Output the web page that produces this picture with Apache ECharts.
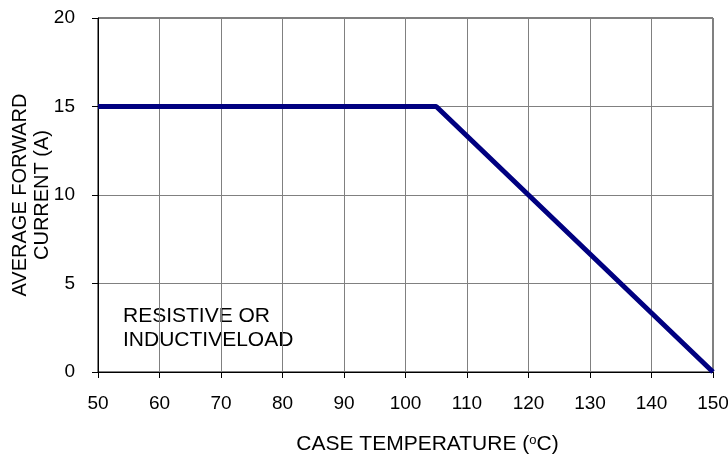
<!DOCTYPE html>
<html><head><meta charset="utf-8">
<script src="https://cdn.jsdelivr.net/npm/echarts@6/dist/echarts.min.js"></script>
<style>html,body{margin:0;padding:0;background:#fff}#c{width:728px;height:458px}</style>
</head><body><div id="c"></div>
<script>
const temps = [50, 105, 150];
const currents = [15, 15, 0];
const xTicks = [50, 150, 10];
const yTicks = [0, 20, 5];
const chart = echarts.init(document.getElementById('c'));
const font = 'Liberation Sans, Arial, sans-serif';
chart.setOption({
  animation: false,
  backgroundColor: '#fff',
  grid: {left: 98, right: 15, top: 18, bottom: 86, show: true, borderColor: '#000', borderWidth: 1, outerBoundsMode: 'none', containLabel: false},
  xAxis: {
    type: 'value', min: xTicks[0], max: xTicks[1], interval: xTicks[2],
    axisLine: {show: true, onZero: false, lineStyle: {color: '#000', width: 1}},
    axisTick: {show: true, inside: false, length: 6, lineStyle: {color: '#000'}},
    axisLabel: {color: '#000', fontSize: 19, fontFamily: font, margin: 22},
    splitLine: {show: true, lineStyle: {color: '#808080', width: 1}},
    name: '{a|CASE TEMPERATURE (}{s|o}{a|C)}',
    nameLocation: 'middle', nameGap: 62, nameMoveOverlap: false,
    nameTextStyle: {padding: [0, 0, 0, 44], rich: {a: {fontSize: 21, fontFamily: font, color: '#000'}, s: {fontSize: 13, fontFamily: font, color: '#000', verticalAlign: 'top', padding: [0, 0, 8, 0]}}}
  },
  yAxis: {
    type: 'value', min: yTicks[0], max: yTicks[1], interval: yTicks[2],
    axisLine: {show: true, lineStyle: {color: '#000', width: 1}},
    axisTick: {show: true, inside: false, length: 6, lineStyle: {color: '#000'}},
    axisLabel: {color: '#000', fontSize: 19, fontFamily: font, margin: 23},
    splitLine: {show: true, lineStyle: {color: '#808080', width: 1}},
    name: 'AVERAGE FORWARD\nCURRENT (A)',
    nameLocation: 'middle', nameGap: 45, nameRotate: 90, nameMoveOverlap: false,
    nameTextStyle: {fontSize: 20, fontFamily: font, color: '#000', lineHeight: 22}
  },
  graphic: [{
    type: 'text', left: 123, top: 304,
    style: {text: 'RESISTIVE OR\nINDUCTIVELOAD', fontSize: 21, fontFamily: font, fill: '#000', lineHeight: 24}
  }],
  series: [{
    type: 'line', data: temps.map((t, i) => [t, currents[i]]),
    symbol: 'none', lineStyle: {color: '#000080', width: 5}, z: 5
  }]
});
</script></body></html>
